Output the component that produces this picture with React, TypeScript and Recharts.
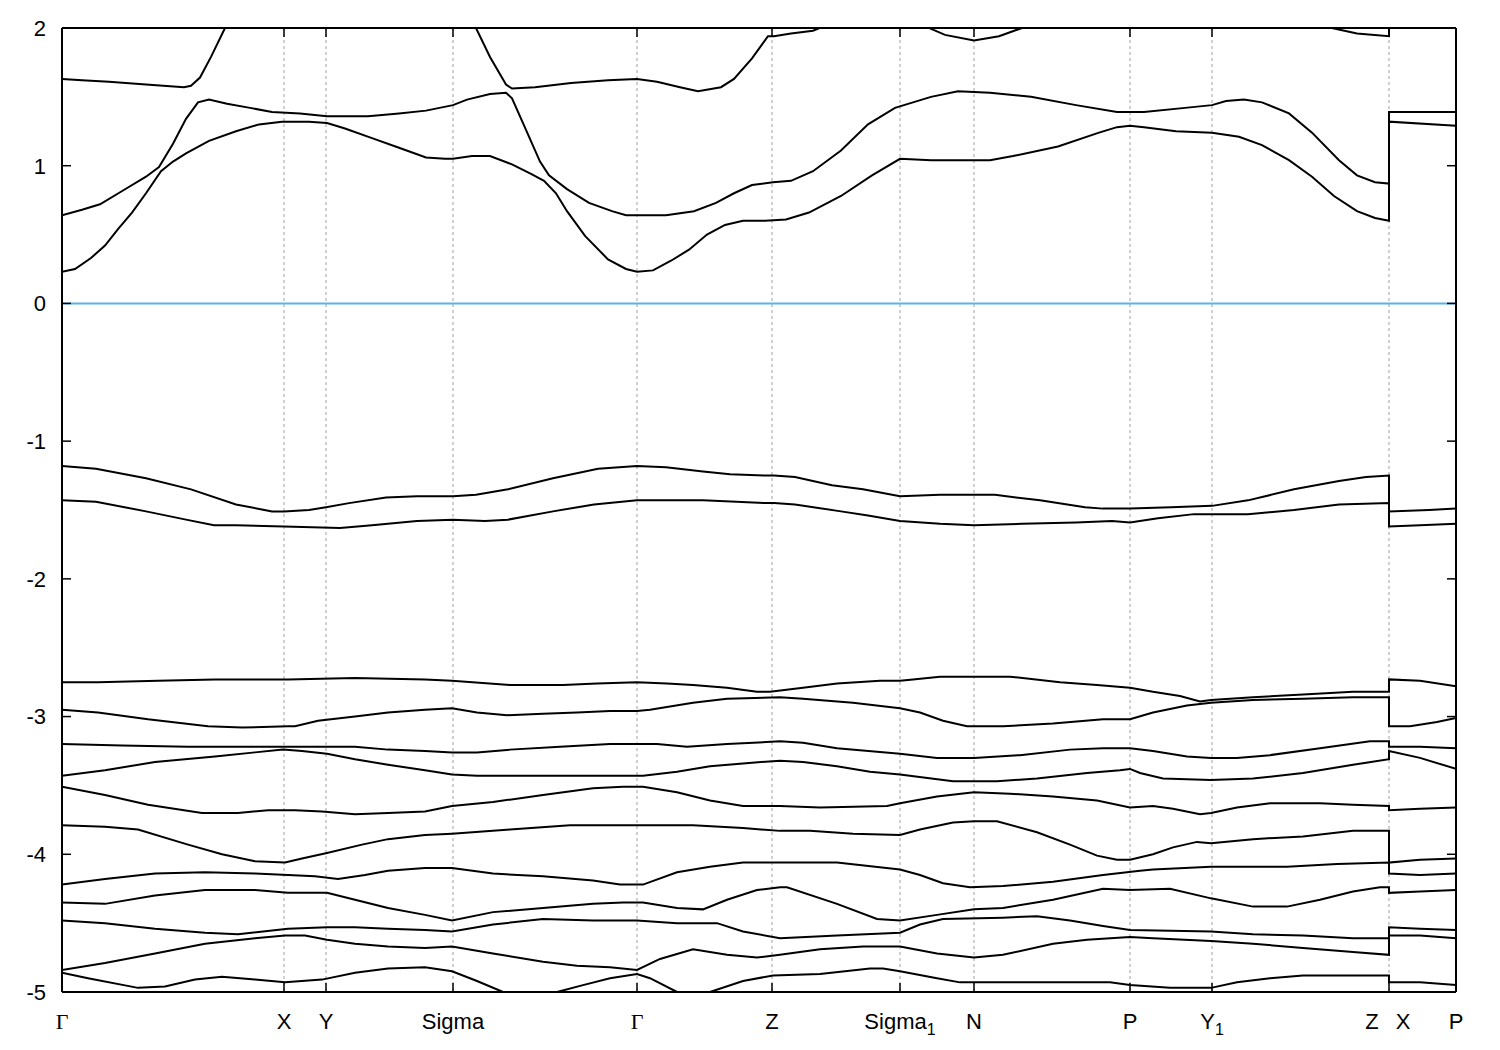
import { LineChart, Line, XAxis, YAxis, CartesianGrid, ReferenceLine } from 'recharts';

// k-path ticks (path length units) and their labels
const K_TICKS = [0, 222, 264, 391, 575, 710, 838, 912, 1068, 1150, 1327, 1394];
const K_LABELS = ['Γ', 'X', 'Y', 'Sigma', 'Γ', 'Z', 'Sigma_1', 'N', 'P', 'Y_1', 'Z|X', 'P'];
const E_TICKS = [-5, -4, -3, -2, -1, 0, 1, 2];

// --- conduction bands [k, E] ---
const cb1 = [
  [0, 0.23], [13, 0.25], [29, 0.33], [43, 0.42], [56, 0.54], [70, 0.66], [84, 0.8], [99, 0.96], [111, 1.03],
  [124, 1.09], [147, 1.18], [174, 1.25], [197, 1.3], [220, 1.32], [247, 1.32], [265, 1.31], [283, 1.27],
  [310, 1.2], [337, 1.13], [364, 1.06], [383, 1.05], [391, 1.05], [410, 1.07], [428, 1.07], [450, 1.01],
  [469, 0.94], [482, 0.89], [494, 0.8], [505, 0.67], [523, 0.49], [546, 0.32], [564, 0.25], [575, 0.23],
  [591, 0.24], [609, 0.31], [627, 0.39], [645, 0.5], [663, 0.57], [681, 0.6], [703, 0.6], [724, 0.61],
  [747, 0.66], [779, 0.78], [810, 0.93], [838, 1.05], [869, 1.04], [928, 1.04], [951, 1.07], [996, 1.14],
  [1037, 1.24], [1055, 1.28], [1068, 1.29], [1082, 1.28], [1114, 1.25], [1150, 1.24], [1177, 1.21],
  [1200, 1.15], [1227, 1.04], [1250, 0.92], [1272, 0.78], [1295, 0.67], [1313, 0.62], [1327, 0.6],
  [1327, 1.32], [1394, 1.29],
];
const cb2 = [
  [0, 0.64], [20, 0.68], [38, 0.72], [61, 0.82], [84, 0.92], [97, 0.99], [111, 1.16], [124, 1.34], [136, 1.46],
  [147, 1.48], [165, 1.45], [188, 1.42], [210, 1.39], [238, 1.38], [265, 1.36], [306, 1.36], [337, 1.38],
  [364, 1.4], [391, 1.44], [405, 1.48], [428, 1.52], [444, 1.53], [450, 1.49], [464, 1.26], [478, 1.03],
  [487, 0.93], [505, 0.83], [527, 0.73], [550, 0.67], [564, 0.64], [604, 0.64], [632, 0.67], [654, 0.73],
  [672, 0.8], [690, 0.86], [711, 0.88], [729, 0.89], [751, 0.96], [779, 1.11], [806, 1.3], [833, 1.42],
  [869, 1.5], [896, 1.54], [928, 1.53], [969, 1.5], [1014, 1.44], [1055, 1.39], [1082, 1.39], [1123, 1.42],
  [1150, 1.44], [1164, 1.47], [1182, 1.48], [1200, 1.46], [1227, 1.38], [1250, 1.24], [1277, 1.04],
  [1295, 0.93], [1313, 0.88], [1327, 0.87], [1327, 1.39], [1394, 1.39],
];
const cb3 = [
  [0, 1.63], [20, 1.62], [47, 1.61], [84, 1.59], [122, 1.57], [129, 1.58], [138, 1.64], [149, 1.79], [163, 2.0],
  [190, 2.4], [300, 2.6], [400, 2.2], [414, 2.0], [428, 1.79], [444, 1.59], [450, 1.56], [473, 1.57],
  [509, 1.6], [546, 1.62], [575, 1.63], [595, 1.61], [618, 1.57], [636, 1.54], [659, 1.57], [672, 1.63],
  [690, 1.78], [706, 1.94], [712, 1.94], [729, 1.96], [751, 1.98], [758, 2.0], [790, 2.2], [840, 2.2],
  [867, 2.0], [883, 1.95], [912, 1.91], [937, 1.94], [960, 2.0], [1000, 2.2], [1230, 2.2], [1270, 2.0],
  [1295, 1.96], [1327, 1.94], [1327, 2.3], [1394, 2.3],
];

// --- upper valence pair ---
const vb1 = [
  [0, -1.18], [34, -1.2], [84, -1.27], [129, -1.35], [174, -1.46], [210, -1.51], [222, -1.51], [247, -1.5],
  [264, -1.48], [287, -1.45], [324, -1.41], [355, -1.4], [391, -1.4], [414, -1.39], [446, -1.35],
  [491, -1.27], [536, -1.2], [575, -1.18], [604, -1.19], [641, -1.22], [668, -1.24], [703, -1.25],
  [712, -1.25], [733, -1.26], [770, -1.32], [801, -1.35], [838, -1.4], [878, -1.39], [912, -1.39],
  [933, -1.39], [978, -1.43], [1023, -1.48], [1041, -1.49], [1068, -1.49], [1109, -1.48], [1150, -1.47],
  [1186, -1.43], [1232, -1.35], [1277, -1.29], [1304, -1.26], [1327, -1.25], [1327, -1.51], [1367, -1.5],
  [1394, -1.49],
];
const vb2 = [
  [0, -1.43], [34, -1.44], [84, -1.51], [124, -1.57], [152, -1.61], [174, -1.61], [222, -1.62], [278, -1.63],
  [310, -1.61], [355, -1.58], [391, -1.57], [423, -1.58], [446, -1.57], [491, -1.51], [532, -1.46],
  [575, -1.43], [641, -1.43], [703, -1.45], [712, -1.45], [733, -1.46], [779, -1.51], [806, -1.54],
  [838, -1.58], [878, -1.6], [912, -1.61], [960, -1.6], [1014, -1.59], [1050, -1.58], [1068, -1.59],
  [1096, -1.56], [1132, -1.53], [1186, -1.53], [1232, -1.5], [1277, -1.46], [1327, -1.45], [1327, -1.62],
  [1358, -1.61], [1394, -1.6],
];

// --- lower valence manifold, top to bottom ---
const db1 = [
  [0, -2.75], [36, -2.75], [96, -2.74], [153, -2.73], [226, -2.73], [293, -2.72], [363, -2.73], [390, -2.74],
  [448, -2.77], [501, -2.77], [535, -2.76], [575, -2.75], [605, -2.76], [631, -2.77], [665, -2.79],
  [695, -2.82], [708, -2.82], [741, -2.79], [775, -2.76], [818, -2.74], [838, -2.74], [851, -2.73],
  [878, -2.71], [912, -2.71], [948, -2.71], [998, -2.75], [1035, -2.77], [1068, -2.79], [1091, -2.82],
  [1118, -2.85], [1138, -2.89], [1149, -2.88], [1191, -2.86], [1241, -2.84], [1291, -2.82], [1327, -2.82],
  [1327, -2.73], [1358, -2.74], [1394, -2.78],
];
const db2 = [
  [0, -2.95], [36, -2.97], [86, -3.02], [146, -3.07], [180, -3.08], [226, -3.07], [233, -3.07], [256, -3.03],
  [293, -3.0], [326, -2.97], [363, -2.95], [390, -2.94], [415, -2.97], [445, -2.99], [481, -2.98],
  [515, -2.97], [548, -2.96], [575, -2.96], [588, -2.95], [631, -2.9], [665, -2.87], [718, -2.86],
  [741, -2.87], [791, -2.9], [838, -2.94], [858, -2.97], [881, -3.03], [905, -3.07], [941, -3.07],
  [991, -3.05], [1041, -3.02], [1068, -3.02], [1091, -2.97], [1125, -2.92], [1149, -2.9], [1191, -2.88],
  [1241, -2.87], [1291, -2.86], [1327, -2.86], [1327, -3.07], [1348, -3.07], [1375, -3.04], [1394, -3.01],
];
const db3 = [
  [0, -3.2], [60, -3.21], [126, -3.22], [193, -3.22], [226, -3.22], [260, -3.22], [293, -3.22], [326, -3.24],
  [363, -3.25], [390, -3.26], [415, -3.26], [448, -3.24], [498, -3.22], [548, -3.2], [575, -3.2],
  [595, -3.2], [625, -3.22], [665, -3.2], [718, -3.18], [741, -3.19], [775, -3.23], [838, -3.27],
  [875, -3.3], [912, -3.3], [958, -3.28], [1008, -3.24], [1041, -3.23], [1068, -3.23], [1091, -3.25],
  [1125, -3.29], [1149, -3.3], [1175, -3.3], [1208, -3.28], [1258, -3.23], [1308, -3.18], [1327, -3.18],
  [1327, -3.22], [1358, -3.22], [1394, -3.23],
];
const db4 = [
  [0, -3.43], [43, -3.39], [93, -3.33], [153, -3.29], [193, -3.26], [221, -3.24], [240, -3.25], [265, -3.27],
  [293, -3.31], [326, -3.35], [363, -3.39], [390, -3.42], [415, -3.43], [458, -3.43], [535, -3.43],
  [581, -3.43], [615, -3.4], [648, -3.36], [681, -3.34], [718, -3.32], [741, -3.33], [775, -3.36],
  [808, -3.4], [838, -3.42], [891, -3.47], [935, -3.47], [975, -3.45], [1025, -3.41], [1058, -3.39],
  [1068, -3.38], [1078, -3.41], [1101, -3.45], [1149, -3.46], [1191, -3.45], [1241, -3.41], [1291, -3.35],
  [1327, -3.31], [1327, -3.25], [1358, -3.3], [1394, -3.38],
];
const db5 = [
  [0, -3.51], [43, -3.57], [86, -3.64], [140, -3.7], [176, -3.7], [206, -3.68], [233, -3.68], [260, -3.69],
  [293, -3.71], [326, -3.7], [363, -3.69], [390, -3.65], [431, -3.62], [481, -3.57], [531, -3.52],
  [561, -3.51], [581, -3.51], [615, -3.55], [648, -3.61], [681, -3.65], [718, -3.65], [758, -3.66],
  [825, -3.65], [838, -3.63], [875, -3.58], [912, -3.55], [948, -3.56], [991, -3.58], [1035, -3.61],
  [1068, -3.66], [1091, -3.65], [1111, -3.67], [1138, -3.71], [1149, -3.7], [1175, -3.66], [1208, -3.63],
  [1258, -3.63], [1291, -3.64], [1327, -3.65], [1327, -3.68], [1358, -3.67], [1394, -3.66],
];
const db6 = [
  [0, -3.79], [43, -3.8], [76, -3.82], [126, -3.93], [160, -4.0], [193, -4.05], [223, -4.06], [240, -4.03],
  [265, -3.99], [300, -3.93], [326, -3.89], [363, -3.86], [390, -3.85], [448, -3.82], [508, -3.79],
  [575, -3.79], [631, -3.79], [681, -3.81], [718, -3.83], [748, -3.83], [791, -3.85], [838, -3.86],
  [858, -3.82], [891, -3.77], [912, -3.76], [935, -3.76], [975, -3.84], [1008, -3.93], [1035, -4.01],
  [1055, -4.04], [1068, -4.04], [1091, -4.0], [1111, -3.95], [1135, -3.91], [1149, -3.92], [1191, -3.89],
  [1241, -3.87], [1291, -3.83], [1327, -3.83], [1327, -4.06], [1358, -4.04], [1394, -4.03],
];
const db7 = [
  [0, -4.22], [43, -4.18], [93, -4.14], [143, -4.13], [193, -4.14], [226, -4.15], [253, -4.16], [276, -4.18],
  [303, -4.15], [326, -4.12], [363, -4.1], [390, -4.1], [431, -4.14], [481, -4.16], [531, -4.19],
  [558, -4.22], [581, -4.22], [615, -4.13], [648, -4.09], [681, -4.06], [718, -4.06], [775, -4.06],
  [838, -4.11], [858, -4.15], [881, -4.21], [908, -4.24], [941, -4.23], [991, -4.2], [1041, -4.15],
  [1078, -4.12], [1091, -4.11], [1149, -4.09], [1191, -4.09], [1225, -4.09], [1275, -4.07], [1327, -4.06],
  [1327, -4.14], [1358, -4.15], [1394, -4.14],
];
const db8 = [
  [0, -4.35], [43, -4.36], [93, -4.3], [143, -4.26], [193, -4.26], [226, -4.28], [265, -4.28], [293, -4.33],
  [326, -4.39], [363, -4.44], [390, -4.48], [431, -4.42], [481, -4.39], [531, -4.36], [561, -4.35],
  [581, -4.35], [615, -4.39], [641, -4.4], [665, -4.33], [695, -4.26], [718, -4.24], [725, -4.24],
  [775, -4.36], [815, -4.47], [838, -4.48], [875, -4.44], [912, -4.4], [941, -4.39], [991, -4.33],
  [1041, -4.25], [1068, -4.26], [1108, -4.25], [1149, -4.32], [1191, -4.38], [1225, -4.38], [1258, -4.33],
  [1291, -4.27], [1318, -4.24], [1327, -4.24], [1327, -4.28], [1358, -4.27], [1394, -4.26],
];
const db9 = [
  [0, -4.48], [43, -4.5], [93, -4.54], [143, -4.57], [176, -4.58], [226, -4.54], [265, -4.53], [293, -4.53],
  [326, -4.54], [363, -4.55], [390, -4.56], [431, -4.51], [481, -4.47], [531, -4.48], [575, -4.48],
  [615, -4.5], [655, -4.5], [681, -4.56], [718, -4.61], [775, -4.59], [838, -4.57], [858, -4.51],
  [881, -4.47], [941, -4.46], [975, -4.45], [1008, -4.48], [1041, -4.52], [1068, -4.55], [1149, -4.56],
  [1191, -4.58], [1241, -4.59], [1291, -4.61], [1327, -4.61], [1327, -4.53], [1358, -4.54], [1394, -4.55],
];
const db10 = [
  [0, -4.84], [43, -4.79], [93, -4.72], [143, -4.65], [193, -4.61], [223, -4.59], [243, -4.59], [265, -4.62],
  [293, -4.65], [326, -4.67], [363, -4.68], [390, -4.67], [431, -4.72], [481, -4.78], [515, -4.81],
  [548, -4.82], [575, -4.84], [598, -4.76], [631, -4.69], [665, -4.73], [695, -4.75], [718, -4.73],
  [758, -4.69], [801, -4.67], [838, -4.67], [875, -4.72], [912, -4.75], [941, -4.73], [991, -4.65],
  [1025, -4.62], [1068, -4.6], [1091, -4.61], [1149, -4.63], [1191, -4.65], [1241, -4.68], [1291, -4.71],
  [1327, -4.73], [1327, -4.59], [1358, -4.59], [1394, -4.61],
];
const db11 = [
  [0, -4.86], [26, -4.9], [76, -4.97], [103, -4.96], [133, -4.91], [160, -4.89], [193, -4.91], [223, -4.93],
  [260, -4.91], [293, -4.86], [326, -4.83], [363, -4.82], [390, -4.85], [415, -4.92], [441, -5.0],
  [468, -5.06], [495, -5.0], [521, -4.95], [548, -4.9], [575, -4.87], [588, -4.9], [615, -5.0], [630, -5.05],
  [648, -5.0], [681, -4.92], [711, -4.88], [758, -4.87], [808, -4.83], [821, -4.83], [838, -4.85],
  [875, -4.9], [898, -4.93], [941, -4.93], [1008, -4.93], [1048, -4.93], [1068, -4.95], [1108, -4.97],
  [1149, -4.97], [1175, -4.93], [1208, -4.9], [1241, -4.88], [1291, -4.88], [1327, -4.88], [1327, -4.93],
  [1358, -4.93], [1394, -4.95],
];

const BANDS = [cb1, cb2, cb3, vb1, vb2, db1, db2, db3, db4, db5, db6, db7, db8, db9, db10, db11];
const toPoints = (band: number[][]) => band.map(([k, e]) => ({ k, e }));

const SANS = '"Liberation Sans", Arial, sans-serif';
const SERIF = '"Liberation Serif", "Times New Roman", serif';
const TICK_LEN = 9;

function KLabel({ x, y, text }: { x: number; y: number; text: string }) {
  const [main, sub] = text.split('_');
  return (
    <text x={x} y={y} textAnchor="middle" fontSize={22} fill="#000"
      fontFamily={main === 'Γ' ? SERIF : SANS}>
      {main}
      {sub && <tspan dy={6} fontSize={16}>{sub}</tspan>}
    </text>
  );
}

function BottomTick(props: any) {
  const { x, y, payload } = props;
  const text = K_LABELS[K_TICKS.indexOf(payload.value)] ?? '';
  const parts = text.split('|');
  return (
    <g>
      <line x1={x} y1={y} x2={x} y2={y - TICK_LEN} stroke="#000" strokeWidth={1.5} />
      {parts.length === 2 ? (
        <>
          <KLabel x={x - 17} y={y + 37} text={parts[0]} />
          <KLabel x={x + 14} y={y + 37} text={parts[1]} />
        </>
      ) : (
        <KLabel x={x} y={y + 37} text={text} />
      )}
    </g>
  );
}

function TopTick(props: any) {
  const { x, y } = props;
  return <line x1={x} y1={y} x2={x} y2={y + TICK_LEN} stroke="#000" strokeWidth={1.5} />;
}

function LeftTick(props: any) {
  const { x, y, payload } = props;
  return (
    <g>
      <line x1={x} y1={y} x2={x + TICK_LEN} y2={y} stroke="#000" strokeWidth={1.5} />
      <text x={x - 16} y={y} dy="0.36em" textAnchor="end" fontSize={22} fontFamily={SANS} fill="#000">
        {payload.value}
      </text>
    </g>
  );
}

function RightTick(props: any) {
  const { x, y } = props;
  return <line x1={x} y1={y} x2={x - TICK_LEN} y2={y} stroke="#000" strokeWidth={1.5} />;
}

const axisLine = { stroke: '#000', strokeWidth: 2 };

export default function App() {
  return (
    <div style={{ width: 1484, height: 1034 }}>
      <LineChart width={1484} height={1034} margin={{ top: 19, right: 35, bottom: 0, left: 0 }}>
        <CartesianGrid xAxisId="b" yAxisId="l" horizontal={false} stroke="#a0a0a0" strokeDasharray="3 3" />
        <XAxis xAxisId="b" type="number" dataKey="k" domain={[0, 1394]} ticks={K_TICKS} interval={0}
          allowDataOverflow height={50} tickSize={0} tickMargin={0} tickLine={false}
          axisLine={axisLine} tick={(p: any) => <BottomTick {...p} />} />
        <XAxis xAxisId="t" orientation="top" type="number" dataKey="k" domain={[0, 1394]} ticks={K_TICKS}
          interval={0} allowDataOverflow height={1} tickSize={0} tickMargin={0} tickLine={false}
          axisLine={axisLine} tick={(p: any) => <TopTick {...p} />} />
        <YAxis yAxisId="l" type="number" domain={[-5, 2]} ticks={E_TICKS} interval={0} allowDataOverflow
          width={54} tickSize={0} tickMargin={0} tickLine={false} axisLine={axisLine}
          tick={(p: any) => <LeftTick {...p} />} />
        <YAxis yAxisId="r" orientation="right" type="number" domain={[-5, 2]} ticks={E_TICKS} interval={0}
          allowDataOverflow width={1} tickSize={0} tickMargin={0} tickLine={false} axisLine={axisLine}
          tick={(p: any) => <RightTick {...p} />} />
        <ReferenceLine xAxisId="b" yAxisId="l" y={0} stroke="#56b4e9" strokeWidth={2} />
        {BANDS.map((band, i) => (
          <Line key={i} xAxisId="b" yAxisId="l" data={toPoints(band)} dataKey="e" type="linear"
            stroke="#000" strokeWidth={2} dot={false} activeDot={false} isAnimationActive={false} />
        ))}
      </LineChart>
    </div>
  );
}
